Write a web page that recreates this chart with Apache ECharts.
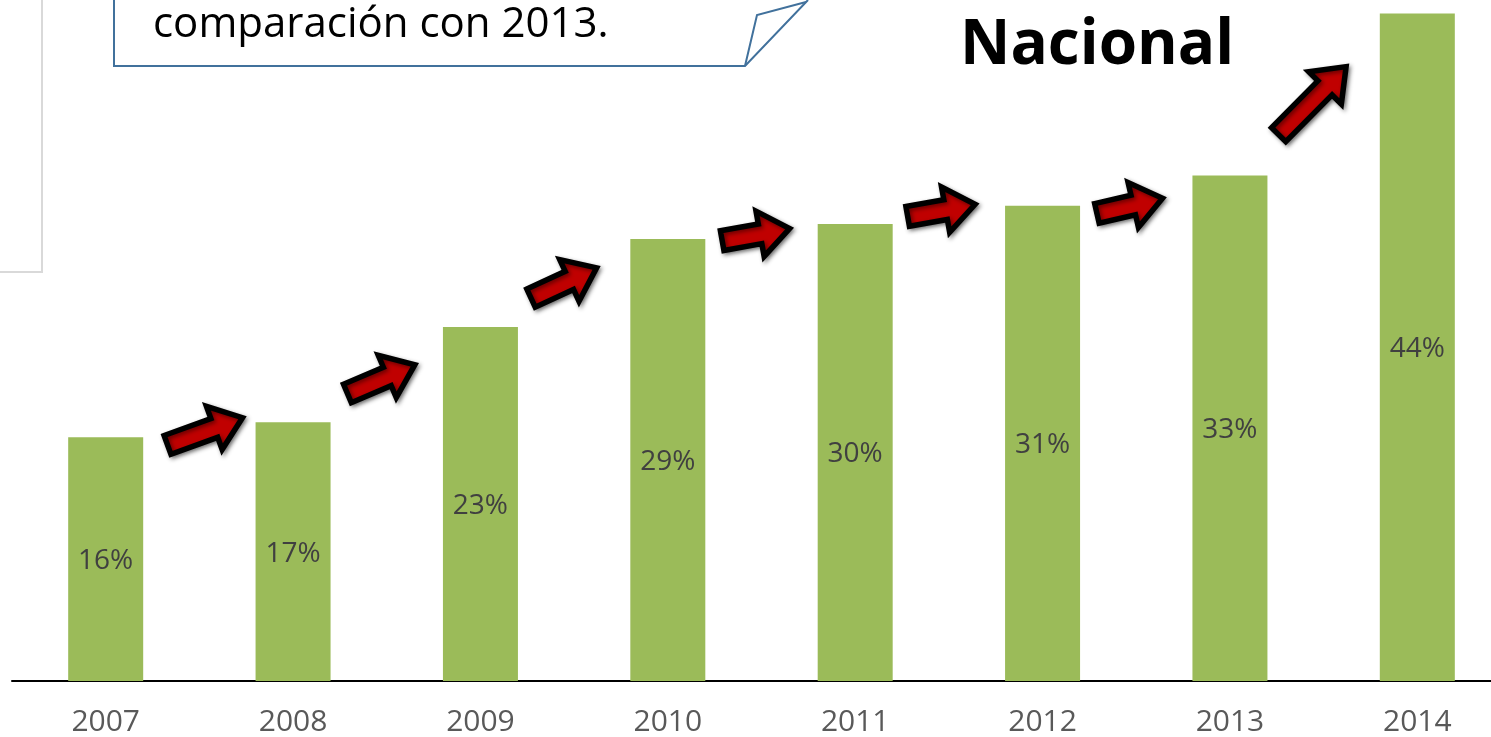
<!DOCTYPE html>
<html>
<head>
<meta charset="utf-8">
<script src="https://cdn.jsdelivr.net/npm/echarts@6/dist/echarts.min.js"></script>
<style>
  html, body { margin: 0; padding: 0; background: #fff; overflow: hidden; }
  #chart { width: 1511px; height: 737px; }
</style>
</head>
<body>
<div id="chart"></div>
<script>
// years on the x axis
const years = ['2007', '2008', '2009', '2010', '2011', '2012', '2013', '2014'];
// share per year, in percent
const shares = [16.1, 17.1, 23.4, 29.2, 30.2, 31.4, 33.4, 44.1];

// decorative arrows between bars: [x index, percent] for tail and head
const arrowTail = [[0.33, 15.6], [1.29, 19.0], [2.27, 25.3], [3.29, 29.1], [4.28, 30.7], [5.29, 30.9], [6.26, 36.1]];
const arrowHead = [[0.73, 17.4], [1.65, 20.9], [2.62, 27.3], [3.65, 29.9], [4.64, 31.5], [5.64, 31.9], [6.62, 40.6]];

const calloutText = 'comparación con 2013.';
const titleText = 'Nacional';

const FONT = '"Open Sans", "Noto Sans", sans-serif';

function arrowData() {
    return arrowTail.map((t, i) => [t[0], t[1], arrowHead[i][0], arrowHead[i][1]]);
}

function renderArrow(params, api) {
    const p0 = api.coord([api.value(0), api.value(1)]);
    const p1 = api.coord([api.value(2), api.value(3)]);
    const dx = p1[0] - p0[0];
    const dy = p1[1] - p0[1];
    const len = Math.sqrt(dx * dx + dy * dy);
    const ux = dx / len, uy = dy / len;
    const vx = -uy, vy = ux;
    const sw = 10, hw = 23, hl = 30;
    // local (u, v) outline of a block arrow
    const local = [[0, -sw], [len - hl, -sw], [len - hl, -hw], [len, 0], [len - hl, hw], [len - hl, sw], [0, sw]];
    const points = local.map(p => [p0[0] + p[0] * ux + p[1] * vx, p0[1] + p[0] * uy + p[1] * vy]);
    return {
        type: 'polygon',
        shape: {points: points},
        style: {
            fill: '#C00000',
            stroke: '#000',
            lineWidth: 5.5,
            lineJoin: 'miter',
            shadowBlur: 4,
            shadowColor: 'rgba(0,0,0,0.45)',
            shadowOffsetX: 2,
            shadowOffsetY: 2
        }
    };
}

const chart = echarts.init(document.getElementById('chart'));

const option = {
    animation: false,
    grid: {left: 12, right: 0, top: 0, bottom: 54, containLabel: false},
    xAxis: [{
        type: 'category',
        data: years,
        boundaryGap: true,
        axisLine: {show: true, lineStyle: {color: '#000', width: 2}},
        axisTick: {show: false},
        axisLabel: {color: '#595959', fontSize: 30, fontFamily: FONT, margin: 26}
    }, {
        type: 'value',
        min: -0.5,
        max: 7.5,
        show: false
    }],
    yAxis: {
        type: 'value',
        min: 0,
        max: 45,
        show: false,
        splitLine: {show: false}
    },
    series: [{
        type: 'bar',
        data: shares,
        barWidth: 75,
        itemStyle: {color: '#9BBB59'},
        label: {
            show: true,
            position: 'inside',
            offset: [0, 2],
            color: '#404040',
            fontSize: 28,
            fontFamily: FONT,
            formatter: p => Math.round(p.value) + '%'
        }
    }, {
        type: 'custom',
        xAxisIndex: 1,
        data: arrowData(),
        renderItem: renderArrow,
        z: 5
    }],
    graphic: [
        // faint box on the left edge
        {type: 'polyline', shape: {points: [[42, 0], [42, 272], [0, 272]]},
            style: {stroke: '#d9d9d9', lineWidth: 2, fill: null}},
        // callout box with folded corner
        {type: 'polyline', shape: {points: [[114, 0], [114, 66], [745, 66], [808, 0]]},
            style: {stroke: '#41719C', lineWidth: 2, fill: null}},
        {type: 'polyline', shape: {points: [[745, 66], [757, 15], [806, 2]]},
            style: {stroke: '#41719C', lineWidth: 2, fill: null}},
        {type: 'text', left: 153, top: 4,
            style: {text: calloutText, fill: '#000', font: '42px ' + FONT}},
        {type: 'text', left: 960, top: 15,
            style: {text: titleText, fill: '#000', font: 'bold 62px ' + FONT}}
    ]
};

chart.setOption(option);
</script>
</body>
</html>
